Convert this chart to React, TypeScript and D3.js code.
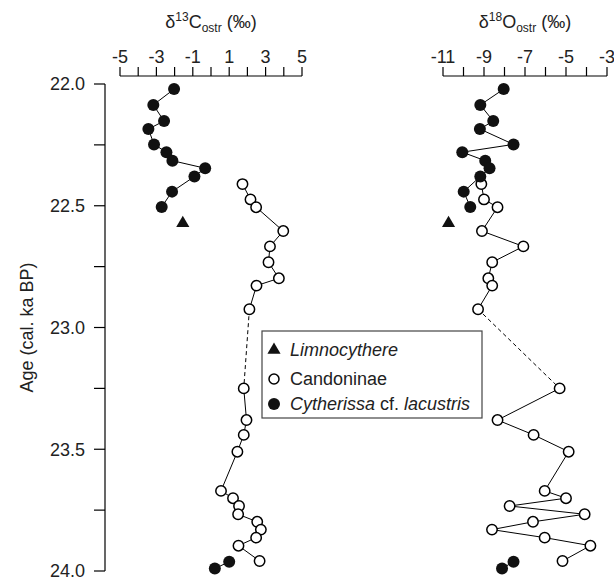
import React from "react";
import * as d3 from "d3";

// Cytherissa cf. lacustris (filled), upper section
const ageCyth = [22.021, 22.086, 22.152, 22.185, 22.248, 22.28, 22.315, 22.346, 22.38, 22.442, 22.505];
const c13Cyth = [-2.03, -3.17, -2.58, -3.44, -3.13, -2.45, -2.12, -0.32, -0.91, -2.14, -2.71];
const o18Cyth = [-8.04, -9.18, -8.55, -9.2, -7.56, -10.06, -8.94, -8.73, -9.18, -9.99, -9.67];

// Cytherissa cf. lacustris, base
const ageCythBase = [23.962, 23.99];
const c13CythBase = [1.0, 0.21];
const o18CythBase = [-7.56, -8.12];

// Limnocythere (triangle)
const ageLimno = [22.572];
const c13Limno = [-1.55];
const o18Limno = [-10.73];

// Candoninae (open)
const ageCand = [22.411, 22.474, 22.506, 22.604, 22.667, 22.732, 22.798, 22.828, 22.925, 23.25, 23.38, 23.441, 23.51, 23.671, 23.701, 23.733, 23.767, 23.798, 23.83, 23.863, 23.896, 23.959];
const c13Cand = [1.73, 2.17, 2.48, 3.97, 3.24, 3.16, 3.73, 2.5, 2.11, 1.8, 1.95, 1.8, 1.45, 0.55, 1.21, 1.54, 1.49, 2.54, 2.74, 2.48, 1.51, 2.67];
const o18Cand = [-9.13, -9.0, -8.34, -9.1, -7.08, -8.6, -8.79, -8.6, -9.29, -5.31, -8.34, -6.58, -4.87, -6.04, -5.0, -7.75, -4.09, -6.61, -8.61, -6.04, -3.81, -5.17];
const gapAfter = 8; // dashed segment between index 8 and 9

const c13Ticks = [-5, -4, -3, -2, -1, 0, 1, 2, 3, 4, 5];
const c13Labels = [-5, -3, -1, 1, 3, 5];
const o18Ticks = [-11, -10, -9, -8, -7, -6, -5, -4, -3];
const o18Labels = [-11, -9, -7, -5, -3];
const ageTicks = [22, 22.25, 22.5, 22.75, 23, 23.25, 23.5, 23.75, 24];
const ageLabels = [22, 22.5, 23, 23.5, 24];

const FONT = "'Liberation Sans', Arial, Helvetica, sans-serif";
const axisY = 76;

type Pt = [number, number];

const Panel = ({ x, ticks, labels, title, iso, cyth, cythBase, limno, cand, y }) => {
  const line = d3.line<Pt>().x(d => x(d[0])).y(d => y(d[1]));
  const pts = (vals: number[], ages: number[]): Pt[] => vals.map((v, i) => [v, ages[i]]);
  const candPts = pts(cand, ageCand);
  const tri = d3.symbol().type(d3.symbolTriangle).size(75)();
  const [x0, x1] = x.range();
  return (
    <g>
      <text x={(x0 + x1) / 2} y={28} textAnchor="middle" fontSize={18}>
        <tspan>δ</tspan>
        <tspan fontSize={12} dy={-7}>{iso}</tspan>
        <tspan dy={7}>{title}</tspan>
        <tspan fontSize={12} dy={4}>ostr</tspan>
        <tspan dy={-4}> (‰)</tspan>
      </text>
      <line x1={x0} x2={x1} y1={axisY} y2={axisY} stroke="#000" strokeWidth={1.2} />
      {ticks.map(t => (
        <line key={t} x1={x(t)} x2={x(t)} y1={axisY} y2={axisY - 9} stroke="#000" strokeWidth={1.2} />
      ))}
      {labels.map(t => (
        <text key={t} x={x(t)} y={63} textAnchor="middle" fontSize={18}>{t}</text>
      ))}
      <path d={line(pts(cyth, ageCyth)) || ""} fill="none" stroke="#000" strokeWidth={1} />
      <path d={line(pts(cythBase, ageCythBase)) || ""} fill="none" stroke="#000" strokeWidth={1} />
      <path d={line(candPts.slice(0, gapAfter + 1)) || ""} fill="none" stroke="#000" strokeWidth={1} />
      <path d={line(candPts.slice(gapAfter, gapAfter + 2)) || ""} fill="none" stroke="#000" strokeWidth={1} strokeDasharray="4,3" />
      <path d={line(candPts.slice(gapAfter + 1)) || ""} fill="none" stroke="#000" strokeWidth={1} />
      {candPts.map((d, i) => (
        <circle key={"c" + i} cx={x(d[0])} cy={y(d[1])} r={5.2} fill="#fff" stroke="#000" strokeWidth={1.5} />
      ))}
      {pts(cyth, ageCyth).concat(pts(cythBase, ageCythBase)).map((d, i) => (
        <circle key={"f" + i} cx={x(d[0])} cy={y(d[1])} r={6} fill="#111" />
      ))}
      {pts(limno, ageLimno).map((d, i) => (
        <path key={"t" + i} d={tri || ""} transform={`translate(${x(d[0])},${y(d[1])})`} fill="#111" />
      ))}
    </g>
  );
};

export default function App() {
  const y = d3.scaleLinear().domain([22, 24]).range([84, 571]);
  const x13 = d3.scaleLinear().domain([-5, 5]).range([120, 302]);
  const x18 = d3.scaleLinear().domain([-11, -3]).range([443, 607]);
  const axisX = 105;
  const tri = d3.symbol().type(d3.symbolTriangle).size(75)();
  const fmt = d3.format(".1f");
  return (
    <svg width={614} height={583} style={{ position: "absolute", left: 0, top: 0, background: "#fff" }} fontFamily={FONT} fill="#222">
      <rect width={614} height={583} fill="#fff" />
      {/* age axis */}
      <line x1={axisX} x2={axisX} y1={y(22)} y2={y(24)} stroke="#000" strokeWidth={1.2} />
      {ageTicks.map(t => (
        <line key={t} x1={axisX - 11} x2={axisX} y1={y(t)} y2={y(t)} stroke="#000" strokeWidth={1.2} />
      ))}
      {ageLabels.map(t => (
        <text key={t} x={85} y={y(t)} dy="0.35em" textAnchor="end" fontSize={18}>{fmt(t)}</text>
      ))}
      <text transform={`translate(33,${(y(22) + y(24)) / 2}) rotate(-90)`} textAnchor="middle" fontSize={18}>
        Age (cal. ka BP)
      </text>

      <Panel x={x13} y={y} ticks={c13Ticks} labels={c13Labels} title="C" iso="13"
        cyth={c13Cyth} cythBase={c13CythBase} limno={c13Limno} cand={c13Cand} />
      <Panel x={x18} y={y} ticks={o18Ticks} labels={o18Labels} title="O" iso="18"
        cyth={o18Cyth} cythBase={o18CythBase} limno={o18Limno} cand={o18Cand} />

      {/* legend */}
      <g>
        <rect x={262} y={331} width={220} height={87} fill="#fff" stroke="#444" strokeWidth={1.2} />
        <path d={tri || ""} transform="translate(274,350)" fill="#111" />
        <text x={290} y={356} fontSize={18} fontStyle="italic">Limnocythere</text>
        <circle cx={274} cy={379} r={5} fill="#fff" stroke="#000" strokeWidth={1.5} />
        <text x={290} y={385} fontSize={18}>Candoninae</text>
        <circle cx={274} cy={404} r={6} fill="#111" />
        <text x={290} y={410} fontSize={18}>
          <tspan fontStyle="italic">Cytherissa</tspan> cf. <tspan fontStyle="italic">lacustris</tspan>
        </text>
      </g>
    </svg>
  );
}
